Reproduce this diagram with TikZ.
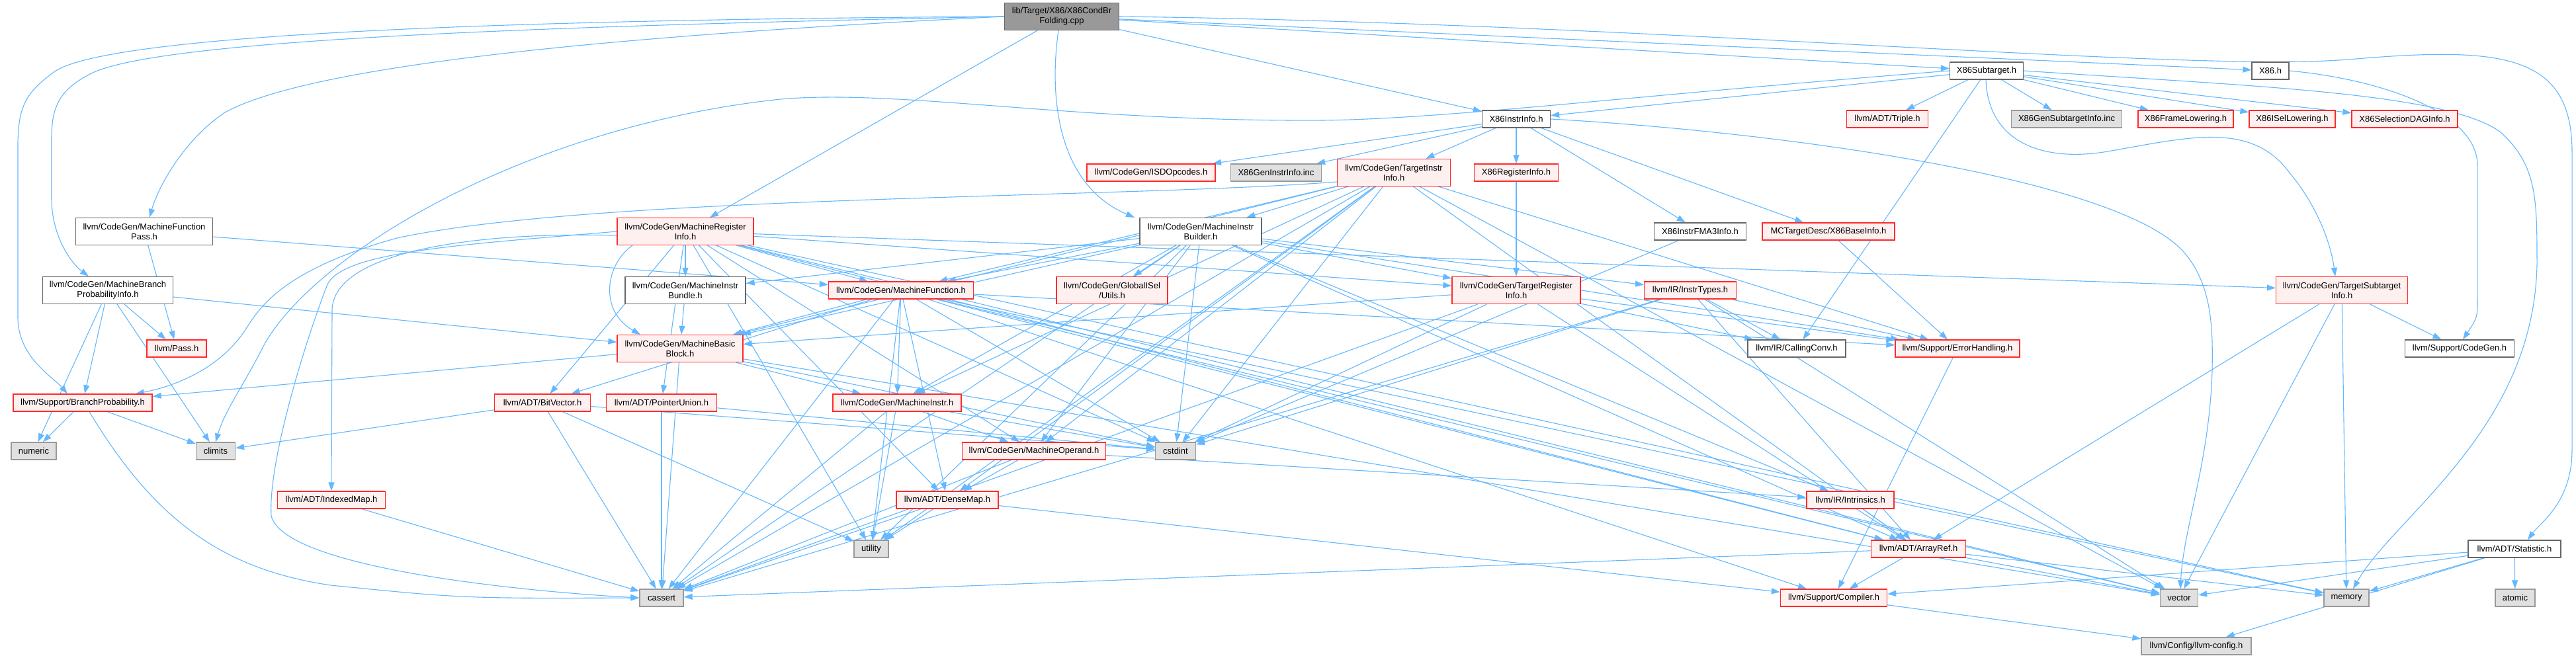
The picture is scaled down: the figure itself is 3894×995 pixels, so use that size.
\documentclass[tikz,border=0pt]{standalone}
\usepackage{fontspec}
\setmainfont{Liberation Sans}
\usetikzlibrary{arrows.meta}
\definecolor{edgeC}{HTML}{63B8FF}
\definecolor{redB}{HTML}{FF2A2A}
\definecolor{redF}{HTML}{FFF0F0}
\definecolor{whiteB}{HTML}{666666}
\definecolor{grayB}{HTML}{999999}
\definecolor{grayF}{HTML}{E0E0E0}
\definecolor{rootF}{HTML}{999999}
\pgfdeclarelayer{bg}
\pgfsetlayers{bg,main}
\tikzset{
  box/.style={draw=whiteB, fill=white, line width=1.3pt, inner sep=0pt, align=center,
              font=\fontsize{13}{15}\selectfont, minimum height=26pt},
  tall/.style={minimum height=41pt},
  bw/.style={minimum width=#1pt},
  redbox/.style={box, draw=redB, fill=redF},
  graybox/.style={box, draw=grayB, fill=grayF},
  rootbox/.style={box, draw=whiteB, fill=rootF},
  edge/.style={draw=edgeC, line width=1.1pt, -{Triangle[length=13pt,width=9pt]}},
}
\begin{document}
\begin{tikzpicture}[x=1pt,y=-1pt]
\useasboundingbox (0,0) rectangle (3894,995);
\begin{pgfonlayer}{bg}
\fill[white] (0,0) rectangle (3894,995);
\end{pgfonlayer}

% row 0
\node[rootbox,tall,bw=173] (root) at (1605,25) {lib/Target/X86/X86CondBr\\Folding.cpp};
% row 1
\node[box,bw=111] (sub) at (3003,107) {X86Subtarget.h};
\node[box,bw=56] (x86h) at (3432,107) {X86.h};
% row 2
\node[box,bw=103] (iinfo) at (2292,180) {X86InstrInfo.h};
\node[redbox,bw=123] (triple) at (2853,180) {llvm/ADT/Triple.h};
\node[graybox,bw=167] (gsub) at (3124,180) {X86GenSubtargetInfo.inc};
\node[redbox,bw=144] (frame) at (3304,180) {X86FrameLowering.h};
\node[redbox,bw=130] (isel) at (3465,180) {X86ISelLowering.h};
\node[redbox,bw=160] (sdag) at (3635,180) {X86SelectionDAGInfo.h};
% row 3
\node[redbox,bw=194] (isd) at (1740,261) {llvm/CodeGen/ISDOpcodes.h};
\node[graybox,bw=137] (ginst) at (1929,261) {X86GenInstrInfo.inc};
\node[redbox,tall,bw=171] (tii) at (2107,261) {llvm/CodeGen/TargetInstr\\Info.h};
\node[redbox,bw=127] (x86ri) at (2292,261) {X86RegisterInfo.h};
% row 4
\node[box,tall,bw=207] (mfp) at (218,350) {llvm/CodeGen/MachineFunction\\Pass.h};
\node[redbox,tall,bw=206] (mri) at (1036,350) {llvm/CodeGen/MachineRegister\\Info.h};
\node[box,tall,bw=184] (mib) at (1815,350) {llvm/CodeGen/MachineInstr\\Builder.h};
\node[box,bw=139] (fma) at (2570,350) {X86InstrFMA3Info.h};
\node[redbox,bw=200] (base) at (2764,350) {MCTargetDesc/X86BaseInfo.h};
% row 5
\node[box,tall,bw=197] (mbpi) at (163,439) {llvm/CodeGen/MachineBranch\\ProbabilityInfo.h};
\node[box,tall,bw=182] (bundle) at (1036,439) {llvm/CodeGen/MachineInstr\\Bundle.h};
\node[redbox,bw=219] (mf) at (1362,439) {llvm/CodeGen/MachineFunction.h};
\node[redbox,tall,bw=168] (gutils) at (1681,439) {llvm/CodeGen/GlobalISel\\/Utils.h};
\node[redbox,tall,bw=194] (tri) at (2292,439) {llvm/CodeGen/TargetRegister\\Info.h};
\node[redbox,bw=139] (itypes) at (2555,439) {llvm/IR/InstrTypes.h};
\node[redbox,tall,bw=199] (tsi) at (3540,439) {llvm/CodeGen/TargetSubtarget\\Info.h};
% row 6
\node[redbox,bw=90] (pass) at (267,527) {llvm/Pass.h};
\node[redbox,tall,bw=190] (mbb) at (1028,527) {llvm/CodeGen/MachineBasic\\Block.h};
\node[box,bw=148] (cconv) at (2716,527) {llvm/IR/CallingConv.h};
\node[redbox,bw=188] (err) at (2959,527) {llvm/Support/ErrorHandling.h};
\node[box,bw=165] (cgen) at (3718,527) {llvm/Support/CodeGen.h};
% row 7
\node[redbox,bw=210] (bprob) at (125,609) {llvm/Support/BranchProbability.h};
\node[redbox,bw=145] (bitv) at (820,609) {llvm/ADT/BitVector.h};
\node[redbox,bw=167] (punion) at (1000,609) {llvm/ADT/PointerUnion.h};
\node[redbox,bw=194] (mi) at (1356,609) {llvm/CodeGen/MachineInstr.h};
% row 8
\node[graybox,bw=68] (numeric) at (51,682) {numeric};
\node[graybox,bw=59] (climits) at (326,682) {climits};
\node[redbox,bw=217] (mop) at (1563,682) {llvm/CodeGen/MachineOperand.h};
\node[graybox,bw=61] (cstdint) at (1777,682) {cstdint};
% row 9
\node[redbox,bw=163] (imap) at (501,756) {llvm/ADT/IndexedMap.h};
\node[redbox,bw=154] (dmap) at (1432,756) {llvm/ADT/DenseMap.h};
\node[redbox,bw=132] (intr) at (2797,756) {llvm/IR/Intrinsics.h};
% row 10
\node[graybox,bw=52] (utility) at (1317,830) {utility};
\node[redbox,bw=143] (aref) at (2900,830) {llvm/ADT/ArrayRef.h};
\node[box,bw=140] (stat) at (3801,830) {llvm/ADT/Statistic.h};
% row 11
\node[graybox,bw=66] (cassert) at (1000,904) {cassert};
\node[redbox,bw=161] (comp) at (2772,904) {llvm/Support/Compiler.h};
\node[graybox,bw=57] (vector) at (3294,904) {vector};
\node[graybox,bw=68] (memory) at (3547,904) {memory};
\node[graybox,bw=60] (atomic) at (3802,904) {atomic};
% row 12
\node[graybox,bw=166] (cfg) at (3320,977) {llvm/Config/llvm-config.h};

\begin{pgfonlayer}{bg}
\foreach \a/\b in {root/mri, root/iinfo, root/sub, root/x86h,
  sub/iinfo, sub/triple, sub/cconv, sub/gsub, sub/frame, sub/isel, sub/sdag,
  stat/comp, stat/vector, stat/memory, stat/atomic, stat/cfg,
  iinfo/isd, iinfo/ginst, iinfo/tii, iinfo/x86ri, iinfo/fma, iinfo/base,
  x86ri/tri, fma/cstdint, base/err,
  tii/aref, tii/dmap, tii/mbb, tii/mf, tii/mi, tii/mib, tii/mop, tii/err,
  tii/cassert, tii/cstdint, tii/utility, tii/vector,
  mfp/mf, mfp/pass,
  mbpi/mbb, mbpi/pass, mbpi/bprob, mbpi/climits, mbpi/numeric,
  mri/aref, mri/bitv, mri/dmap, mri/punion, mri/mf, mri/bundle,
  mri/mop, mri/tri, mri/tsi, mri/cstdint, mri/memory, mri/utility, mri/vector,
  mib/aref, mib/gutils, mib/mbb, mib/mf, mib/mi, mib/bundle, mib/mop, mib/tri,
  mib/itypes, mib/intr, mib/err, mib/cassert, mib/cstdint, mib/utility,
  bundle/mbb,
  mf/aref, mf/bitv, mf/dmap, mf/mbb, mf/mi, mf/comp, mf/err, mf/cassert, mf/cstdint,
  mf/memory, mf/utility, mf/vector,
  mbb/mi, mbb/bprob, mbb/cassert, mbb/cstdint, mbb/vector,
  mi/mop, mi/cassert, mi/cstdint, mi/utility,
  mop/dmap, mop/intr, mop/cassert,
  dmap/comp, dmap/cassert, dmap/utility,
  bitv/climits, bitv/cassert, bitv/cstdint, bitv/utility,
  punion/cassert, punion/cstdint, imap/cassert,
  tri/aref, tri/mbb, tri/cconv, tri/err, tri/cassert, tri/cstdint,
  itypes/aref, itypes/cconv, itypes/err, itypes/cassert, itypes/cstdint, itypes/vector,
  tsi/aref, tsi/cgen, tsi/memory, tsi/vector,
  intr/aref, aref/comp, aref/cassert, aref/memory, aref/vector,
  err/comp, comp/cfg, bprob/numeric, bprob/climits}
  \draw[edge] (\a) -- (\b);
% curved connectors
\draw[edge] (root.west) .. controls (700,30) and (150,55) .. (80,110)
  .. controls (40,140) and (27,160) .. (27,220) -- (27,480)
  .. controls (27,540) and (80,570) .. ([xshift=-23pt]bprob.north);
\draw[edge] (root.west) .. controls (800,40) and (250,60) .. (140,110)
  .. controls (90,135) and (78,160) .. (78,210) -- (78,300)
  .. controls (78,360) and (110,400) .. ([xshift=-29pt]mbpi.north);
\draw[edge] (root.west) .. controls (800,60) and (450,110) .. (340,170)
  .. controls (280,210) and (240,280) .. ([xshift=8pt]mfp.north);
\draw[edge] ([xshift=-5pt]root.south) .. controls (1585,150) and (1600,280) .. ([xshift=-100pt]mib.north);
\draw[edge] (root.east) .. controls (2500,35) and (3300,110) .. (3550,90)
  .. controls (3780,70) and (3888,80) .. (3888,230) -- (3888,680)
  .. controls (3888,760) and (3840,790) .. ([xshift=20pt]stat.north);
\draw[edge] (sub.west) .. controls (2400,150) and (2150,185) .. (1950,182)
  .. controls (1600,180) and (1350,135) .. (1180,150)
  .. controls (800,190) and (480,380) .. (400,520)
  .. controls (370,580) and (340,620) .. (climits.north);
\draw[edge] (sub.east) .. controls (3400,130) and (3700,140) .. (3780,200)
  .. controls (3835,250) and (3835,300) .. (3835,400)
  .. controls (3830,650) and (3620,780) .. ([xshift=10pt]memory.north);
\draw[edge] (x86h.east) .. controls (3600,120) and (3745,170) .. (3745,250) -- (3745,450)
  .. controls (3745,480) .. ([xshift=5pt]cgen.north);
\draw[edge] ([xshift=-1pt]sub.south) .. controls (3005,210) and (3080,245) .. (3180,230)
  .. controls (3300,210) and (3400,180) .. (3460,260)
  .. controls (3510,320) and (3525,380) .. ([xshift=-10pt]tsi.north);
\draw[edge] (iinfo.east) .. controls (2700,200) and (3200,270) .. (3300,380)
  .. controls (3345,430) and (3345,500) .. (3344,560)
  .. controls (3340,700) and (3300,800) .. ([xshift=2pt]vector.north);
\draw[edge] ([xshift=10pt]bprob.south) .. controls (230,780) and (330,860) .. (500,885)
  .. controls (700,905) .. (cassert.west);
\draw[edge] (mri.west) .. controls (700,370) and (520,380) .. (495,430)
  .. controls (460,520) and (405,700) .. (410,780)
  .. controls (430,860) and (800,895) .. (cassert.west);
\draw[edge] ([yshift=-6pt]mri.west) .. controls (720,350) and (502,380) .. (502,470)
  -- (imap.north);
\draw[edge] ([xshift=-80pt]mri.south) .. controls (915,400) and (905,470) .. ([xshift=-60pt]mbb.north);
\draw[edge] ([yshift=-14pt]tii.west) .. controls (1700,300) and (900,295) .. (600,360)
  .. controls (420,410) and (390,470) .. (370,500)
  .. controls (330,560) and (260,585) .. ([xshift=80pt]bprob.north);
\end{pgfonlayer}
\end{tikzpicture}
\end{document}
